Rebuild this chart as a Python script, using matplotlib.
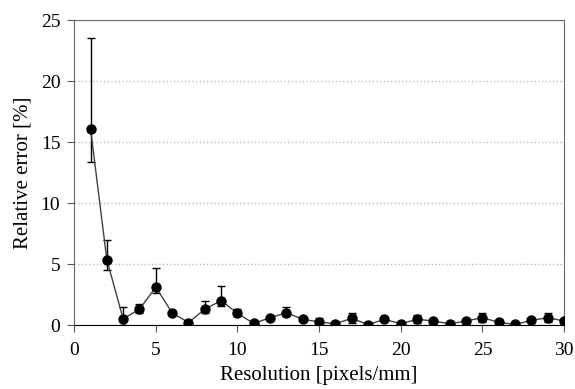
import matplotlib
matplotlib.use('Agg')
import matplotlib.pyplot as plt

plt.rcParams['font.family'] = ['Liberation Serif', 'DejaVu Serif']

# Resolution [pixels/mm] and relative error [%]
resolution = list(range(1, 31))
error = [16.1, 5.35, 0.5, 1.3, 3.1, 1.0, 0.2, 1.3, 2.0, 0.95,
         0.13, 0.6, 1.0, 0.47, 0.25, 0.1, 0.55, 0.03, 0.47, 0.1,
         0.47, 0.33, 0.1, 0.33, 0.6, 0.22, 0.05, 0.38, 0.6, 0.33]
err_low = [2.7, 0.85, 0.5, 0.3, 0.5, 0.1, 0.1, 0.3, 0.45, 0.25,
           0.1, 0.1, 0.3, 0.1, 0.25, 0.1, 0.35, 0.03, 0.1, 0.1,
           0.3, 0.1, 0.1, 0.1, 0.35, 0.1, 0.05, 0.1, 0.35, 0.1]
err_high = [7.4, 1.6, 1.0, 0.45, 1.6, 0.1, 0.1, 0.7, 1.2, 0.4,
            0.1, 0.1, 0.5, 0.1, 0.3, 0.1, 0.4, 0.05, 0.1, 0.1,
            0.35, 0.1, 0.1, 0.1, 0.4, 0.1, 0.05, 0.1, 0.4, 0.1]

fig = plt.figure(figsize=(5.75, 3.89), dpi=100)
ax = fig.add_axes([0.129, 0.1645, 0.852, 0.784])

ax.errorbar(resolution, error, yerr=[err_low, err_high], fmt='none',
            ecolor='black', elinewidth=1, capsize=3, capthick=1, zorder=2)
ax.plot(resolution, error, color='#404040', lw=1, zorder=3)
ax.plot(resolution, error, 'o', color='black', ms=6.5, zorder=4)

ax.set_xlim(0, 30)
ax.set_ylim(0, 25)
ax.set_xticks(range(0, 31, 5))
ax.set_yticks(range(0, 26, 5))
ax.yaxis.grid(True, linestyle=':', color='#bbbbbb', lw=1)
ax.set_axisbelow(True)

for s in ['left', 'top', 'right']:
    ax.spines[s].set_color('#666666')
ax.spines['bottom'].set_color('black')
ax.tick_params(direction='out', length=5, labelsize=14, color='#555555')
ax.tick_params(axis='x', pad=7)
ax.tick_params(axis='y', pad=5)

ax.set_xlabel('Resolution [pixels/mm]', fontsize=15, labelpad=5)
ax.set_ylabel('Relative error [%]', fontsize=15, labelpad=6)

fig.savefig('out.png', dpi=100)
